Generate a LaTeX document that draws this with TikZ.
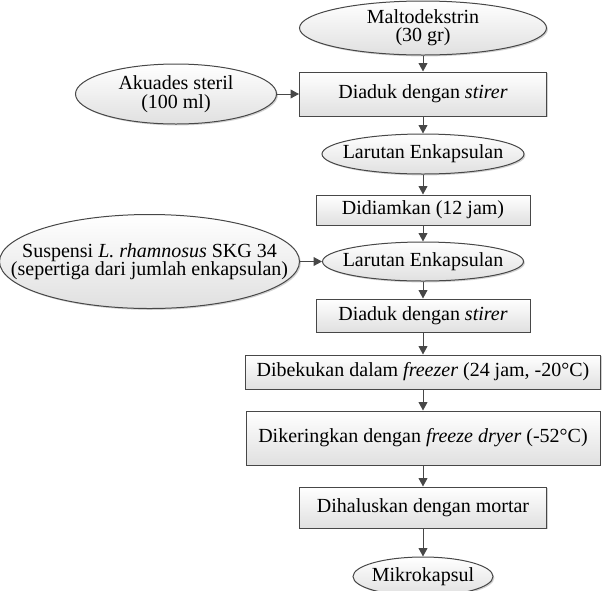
\documentclass[tikz,border=0pt]{standalone}
\usepackage{fontspec}
\setmainfont{Liberation Serif}
\usepackage{xcolor}
\definecolor{edge}{HTML}{474747}
\definecolor{shade}{HTML}{E0E0E0}
\usetikzlibrary{arrows.meta,positioning,shapes.geometric,shadows}
\tikzset{
  every picture/.style={font=\fontsize{10}{9.2}\selectfont, line width=0.5pt},
  soft shadow/.style={drop shadow={shadow xshift=0.7pt, shadow yshift=-0.7pt, fill=black!40, opacity=0.45}},
  stepbox/.style 2 args={draw=edge, top color=white, bottom color=shade, soft shadow, align=center, inner sep=0pt, minimum width=#1, minimum height=#2},
  inputs/.style 2 args={ellipse, draw=edge, top color=white, bottom color=shade, soft shadow, inner sep=0pt, minimum width=#1, minimum height=#2},
  intext/.style={label={[align=center]center:#1}},
  arrow/.style={-{Triangle[length=4.2pt, width=4.4pt]}, draw=edge},
}

\begin{document}
\begin{tikzpicture}
  \useasboundingbox (0,0) rectangle (301.5pt,-295pt);
  % main column
  \node[inputs={123.5pt}{27pt}, intext={Maltodekstrin\\(30 gr)}] (malto) at (211.5pt,-14pt) {};
  \node[stepbox={123.5pt}{22pt}, below=8pt of malto] (stir1) {Diaduk dengan \textit{stirer}};
  \node[inputs={101pt}{20pt}, intext={Larutan Enkapsulan}, below=8.5pt of stir1] (sol1) {};
  \node[stepbox={107pt}{15pt}, below=10pt of sol1] (rest) {Didiamkan (12 jam)};
  \node[inputs={100.5pt}{19.5pt}, intext={Larutan Enkapsulan}, below=8pt of rest] (sol2) {};
  \node[stepbox={107pt}{16.5pt}, below=8.5pt of sol2] (stir2) {Diaduk dengan \textit{stirer}};
  \node[stepbox={177.5pt}{17pt}, below=11pt of stir2] (freeze) {Dibekukan dalam \textit{freezer} (24 jam, -20°C)};
  \node[stepbox={177pt}{27pt}, below=10.5pt of freeze] (dry) {Dikeringkan dengan \textit{freeze dryer} (-52°C)};
  \node[stepbox={123.5pt}{20.5pt}, below=10.5pt of dry] (grind) {Dihaluskan dengan mortar};
  \node[inputs={70pt}{19.5pt}, intext={Mikrokapsul}, below=14pt of grind] (caps) {};
  % side inputs
  \node[inputs={100.5pt}{30pt}, intext={Akuades steril\\(100 ml)}, left=11pt of stir1] (water) {};
  \node[inputs={150pt}{47pt}, intext={Suspensi \textit{L. rhamnosus} SKG 34\\(sepertiga dari jumlah enkapsulan)}, left=11pt of sol2] (cells) {};
  \draw[arrow] (malto) -- (stir1);
  \draw[arrow] (stir1) -- (sol1);
  \draw[arrow] (sol1) -- (rest);
  \draw[arrow] (rest) -- (sol2);
  \draw[arrow] (sol2) -- (stir2);
  \draw[arrow] (stir2) -- (freeze);
  \draw[arrow] (freeze) -- (dry);
  \draw[arrow] (dry) -- (grind);
  \draw[arrow] (grind) -- (caps);
  \draw[arrow] (water) -- (stir1);
  \draw[arrow] (cells) -- (sol2);
\end{tikzpicture}
\end{document}
